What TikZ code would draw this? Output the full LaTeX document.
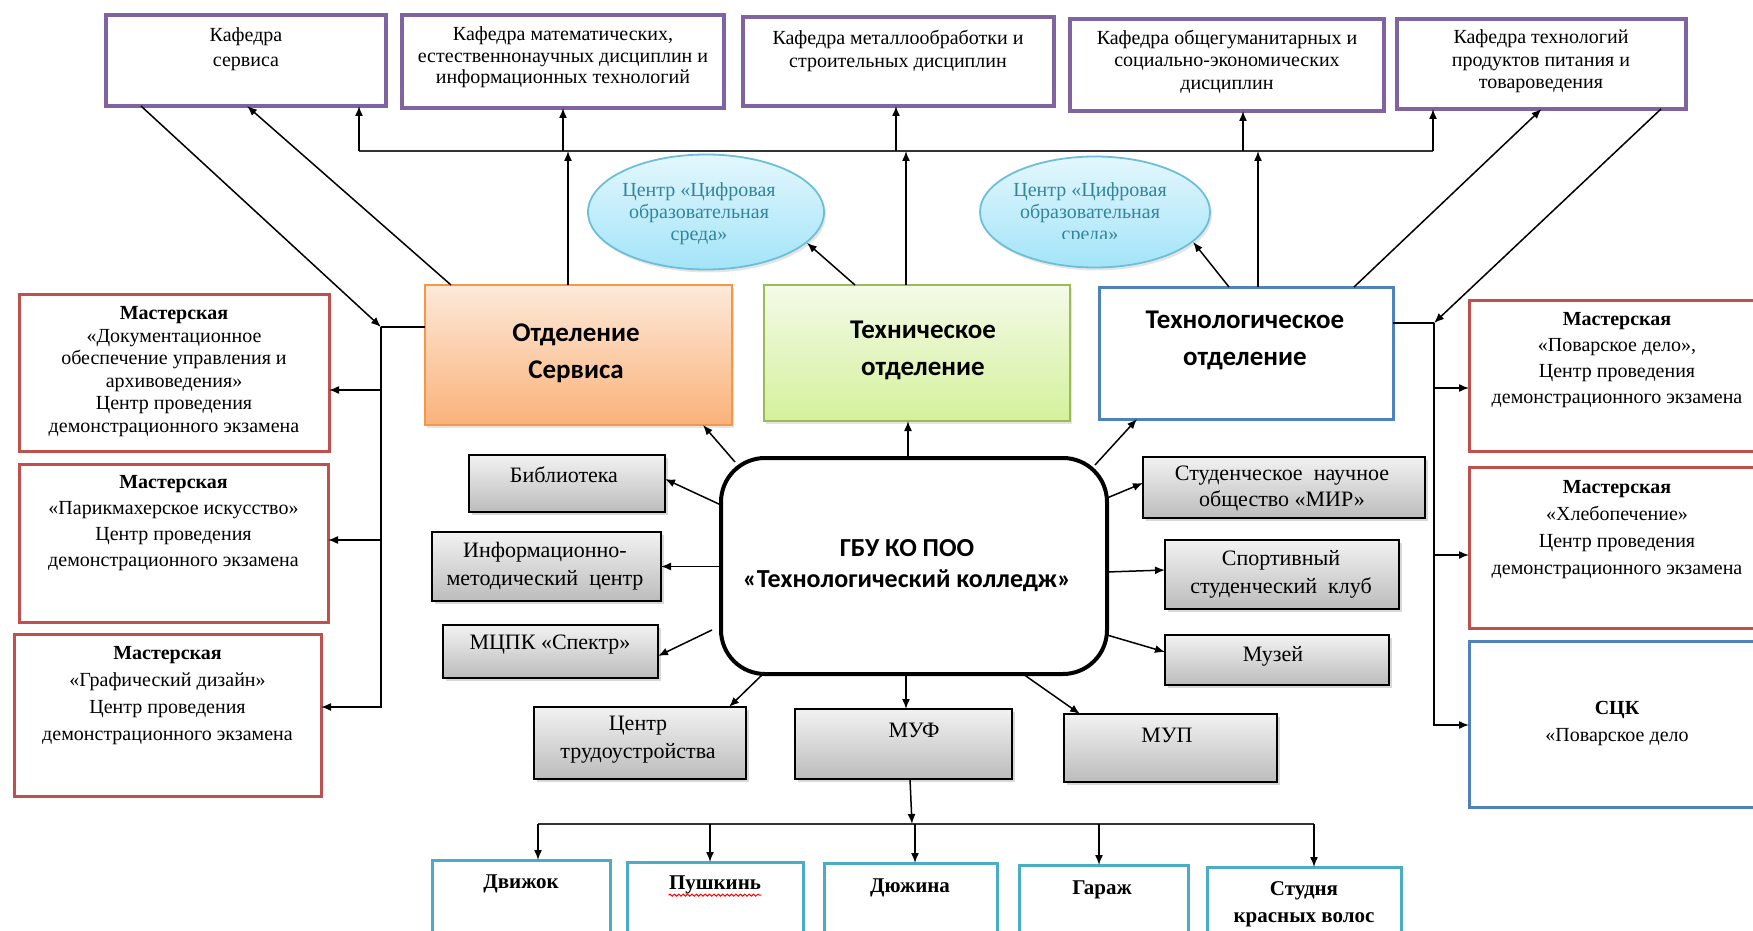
\documentclass[tikz,border=0pt]{standalone}
\usepackage{fontspec}
\setmainfont{Liberation Serif}
\newfontfamily\calib{Carlito}
\usetikzlibrary{arrows.meta,shapes.geometric,fit,shadows,calc,decorations.pathmorphing}
\definecolor{kpurple}{HTML}{8064A2}
\definecolor{wred}{HTML}{C0504D}
\definecolor{dblue}{HTML}{4F81BD}
\definecolor{bcyan}{HTML}{4BACC6}
\definecolor{oborder}{HTML}{F79646}
\definecolor{otop}{HTML}{FDE9D9}
\definecolor{obot}{HTML}{FAB27A}
\definecolor{gborder}{HTML}{9BBB59}
\definecolor{gtop}{HTML}{F4FAE8}
\definecolor{gbot}{HTML}{D4F19B}
\definecolor{etop}{HTML}{E3F7FD}
\definecolor{ebot}{HTML}{A3E4F8}
\definecolor{eborder}{HTML}{6DBFD9}
\definecolor{etext}{HTML}{31859C}
\definecolor{greytop}{HTML}{F2F2F2}
\definecolor{greybot}{HTML}{BCBCBC}
\tikzset{
 box/.style={inner sep=0pt, outer sep=0pt},
 kaf/.style={box, draw=kpurple, line width=1.75pt, fill=white},
 wsh/.style={box, draw=wred, line width=1.5pt, fill=white},
 wshb/.style={box, draw=dblue, line width=1.5pt, fill=white},
 greybox/.style={box, draw=black, line width=0.9pt, top color=greytop, bottom color=greybot,
   drop shadow={shadow xshift=1.5pt, shadow yshift=-1.5pt, opacity=0.3}},
 botbox/.style={box, draw=bcyan, line width=1.5pt, fill=white},
 ell/.style={ellipse, inner sep=0pt, draw=eborder, line width=0.9pt, top color=etop, bottom color=ebot,
   drop shadow={shadow xshift=1pt, shadow yshift=-1.5pt, opacity=0.2}},
 txt/.style={inner sep=0pt, align=center, font=\fontsize{10}{11.5}\selectfont},
 dtxt/.style={inner sep=0pt, align=center, font=\calib\bfseries\fontsize{13.5}{18.5}\selectfont},
 arr/.style={line width=0.75pt, -{Latex[length=5pt,width=4pt]}},
 ln/.style={line width=0.75pt},
 bus/.style={line width=1pt, black!80},
}
\begin{document}
\begin{tikzpicture}[x=0.5pt,y=-0.5pt]
\fill[white] (0,0) rectangle (1753,931);
\useasboundingbox (0,0) rectangle (1753,931);

% ---------- top row: departments (кафедры)
\node[kaf, fit={(106,15) (386,106)}] (k1) {};
\node[kaf, fit={(402,15) (724,108)}] (k2) {};
\node[kaf, fit={(743,17) (1054,106)}] (k3) {};
\node[kaf, fit={(1070,19) (1384,111)}] (k4) {};
\node[kaf, fit={(1397,19) (1686,109)}] (k5) {};
\node[txt, font=\fontsize{10}{12.5}\selectfont] (k1t) at (246,49.5) {Кафедра\\сервиса};
\node[txt, font=\fontsize{10}{10.8}\selectfont] (k2t) at (563,57.5) {Кафедра математических,\\естественнонаучных дисциплин и\\информационных технологий};
\node[txt] (k3t) at (898,50.5) {Кафедра металлообработки и\\строительных дисциплин};
\node[txt, font=\fontsize{10}{11.2}\selectfont] (k4t) at (1227,61.5) {Кафедра общегуманитарных и\\социально-экономических\\дисциплин};
\node[txt, font=\fontsize{10}{11.2}\selectfont] (k5t) at (1541,61.5) {Кафедра технологий\\продуктов питания и\\товароведения};

% ---------- ellipses
\node[ell, minimum width=118pt, minimum height=57.5pt] (e1) at (706,212) {};
\node[ell, minimum width=115pt, minimum height=55.5pt] (e2) at (1095,212) {};
\node[txt, text=etext, font=\fontsize{10}{11}\selectfont] (e1t) at (699,213.5) {Центр «Цифровая\\образовательная\\среда»};
\begin{scope}
\clip (960,150) rectangle (1230,239);
\node[txt, text=etext, font=\fontsize{10}{11}\selectfont] (e2t) at (1090,213.5) {Центр «Цифровая\\образовательная\\среда»};
\end{scope}

% ---------- divisions
\node[box, draw=oborder, line width=0.8pt, top color=otop, bottom color=obot,
  drop shadow={shadow xshift=1pt, shadow yshift=-1.5pt, opacity=0.2}, fit={(425,285) (732,425)}] (srv) {};
\node[box, draw=gborder, line width=0.8pt, top color=gtop, bottom color=gbot,
  drop shadow={shadow xshift=1pt, shadow yshift=-1.5pt, opacity=0.2}, fit={(764,285) (1070,421)}] (tech) {};
\node[box, draw=dblue, line width=1.5pt, fill=white, fit={(1099,287) (1393,419)}] (tlg) {};
\node[dtxt] (srvt) at (576,353.5) {Отделение\\Сервиса};
\node[dtxt] (techt) at (923,350.5) {Техническое\\отделение};
\node[dtxt] (tlgt) at (1245,340.5) {Технологическое\\отделение};

% ---------- centre
\node[box, draw=black, line width=2pt, rounded corners=22pt, fill=white, fit={(721,458) (1107,674)}] (ctr) {};
\node[inner sep=0pt, align=center, font=\calib\bfseries\fontsize{13}{15.5}\selectfont] (ctrt) at (907,565.5) {ГБУ КО ПОО\\«Технологический колледж»};

% ---------- grey units
\node[greybox, fit={(469,455) (665,512)}] (lib) {};
\node[greybox, fit={(432,532) (661,601)}] (imc) {};
\node[greybox, fit={(443,625) (658,678)}] (mcpk) {};
\node[greybox, fit={(1143,457) (1425,518)}] (snm) {};
\node[greybox, fit={(1165,540) (1399,609)}] (ssk) {};
\node[greybox, fit={(1165,635) (1389,685)}] (muz) {};
\node[greybox, fit={(534,707) (746,779)}] (ctru) {};
\node[greybox, fit={(795,709) (1012,779)}] (muf) {};
\node[greybox, fit={(1064,714) (1277,782)}] (mup) {};
\tikzset{gtxt/.style={txt, font=\fontsize{11}{14}\selectfont}}
\node[gtxt] (libt) at (564,475) {Библиотека};
\node[gtxt] (imct) at (545,566) {Информационно-\\методический\ \ центр};
\node[gtxt] (mcpkt) at (550,645) {МЦПК «Спектр»};
\node[gtxt, font=\fontsize{11}{13}\selectfont] (snmt) at (1282,489) {Студенческое\ \ научное\\общество «МИР»};
\node[gtxt] (sskt) at (1281,574.5) {Спортивный\\студенческий\ \ клуб};
\node[gtxt] (muzt) at (1273,656) {Музей};
\node[gtxt] (ctrut) at (638,740) {Центр\\трудоустройства};
\node[gtxt] (muft) at (914,730) {МУФ};
\node[gtxt] (mupt) at (1167,735) {МУП};

% ---------- workshops left
\node[wsh, fit={(19,294) (329,451)}] (w1) {};
\node[wsh, fit={(19,464) (328,622)}] (w2) {};
\node[wsh, fit={(14,634) (321,796)}] (w3) {};
\node[txt, font=\fontsize{10}{11.3}\selectfont] (w1t) at (174,371.5) {\textbf{Мастерская}\\«Документационное\\обеспечение управления и\\архивоведения»\\Центр проведения\\демонстрационного экзамена};
\node[txt, font=\fontsize{10}{13}\selectfont] (w2t) at (173.5,523) {\textbf{Мастерская}\\«Парикмахерское искусство»\\Центр проведения\\демонстрационного экзамена};
\node[txt, font=\fontsize{10}{13.5}\selectfont] (w3t) at (167.5,695.5) {\textbf{Мастерская}\\«Графический дизайн»\\Центр проведения\\демонстрационного экзамена};

% ---------- workshops right
\node[wsh, fit={(1469,300) (1772,451)}] (r1) {};
\node[wsh, fit={(1469,467) (1772,628)}] (r2) {};
\node[wshb, fit={(1469,641) (1772,807)}] (r3) {};
\node[txt, font=\fontsize{10}{13}\selectfont] (r1t) at (1617,360) {\textbf{Мастерская}\\«Поварское дело»,\\Центр проведения\\демонстрационного экзамена};
\node[txt, font=\fontsize{10}{13.5}\selectfont] (r2t) at (1617,529.5) {\textbf{Мастерская}\\«Хлебопечение»\\Центр проведения\\демонстрационного экзамена};
\node[txt, font=\fontsize{10}{13.5}\selectfont] (r3t) at (1617,723.5) {\textbf{СЦК}\\«Поварское дело};

% ---------- bottom row
\node[botbox, fit={(432,860) (610,980)}] (b1) {};
\node[botbox, fit={(627,862) (803,980)}] (b2) {};
\node[botbox, fit={(824,863) (997,980)}] (b3) {};
\node[botbox, fit={(1019,865) (1188,980)}] (b4) {};
\node[botbox, fit={(1207,867) (1401,980)}] (b5) {};
\tikzset{btxt/.style={txt, font=\bfseries\fontsize{10.5}{13.5}\selectfont}}
\node[btxt] (b1t) at (521,884) {Движок};
\node[btxt] (b2t) at (715,885) {Пушкинь};
\node[btxt] (b3t) at (910,888) {Дюжина};
\node[btxt] (b4t) at (1102,890) {Гараж};
\node[btxt] (b5t) at (1304,904.5) {Студня\\красных волос};
\draw[red, line width=0.5pt, decorate, decoration={snake, amplitude=0.5pt, segment length=2.2pt}]
  ([yshift=-0.3pt]b2t.south west) -- ([yshift=-0.3pt]b2t.south east);

% ---------- coordinates of buses
\coordinate (tbL) at (359,151);
\coordinate (tbR) at (1433,151);
\coordinate (lbT) at (381,327);
\coordinate (lbB) at (381,707);
\coordinate (rbT) at (1434,323);
\coordinate (rbB) at (1434,725);
\coordinate (bbL) at (538,824);
\coordinate (bbR) at (1314,824);
\coordinate (bbM) at (912,824);

% ---------- top bus
\draw[bus] (tbL) -- (tbR);
\draw[arr] (tbL) -- (tbL |- k1.south);
\draw[arr] (k2.south |- tbL) -- (k2.south);
\draw[arr] (896,151) -- (896,0 |- k3.south);
\draw[arr] (1243,151) -- (1243,0 |- k4.south);
\draw[arr] (tbR) -- (tbR |- k5.south);
\draw[arr] (568,0 |- srv.north) -- (568,0 |- tbL);
\draw[arr] (906,0 |- tech.north) -- (906,0 |- tbL);
\draw[arr] (1258,0 |- tlg.north) -- (1258,0 |- tbL);

% ---------- diagonals
\draw[arr] (141,0 |- k1.south) -- (lbT);
\draw[arr] (451,0 |- srv.north) -- (247,0 |- k1.south);
\draw[arr] (1661,0 |- k5.south) -- (rbT);
\draw[arr] (1354,0 |- tlg.north) -- (k5.south);
\draw[arr] (855,0 |- tech.north) -- (e1.-17);
\draw[arr] (1229,0 |- tlg.north) -- (e2.-17);

% ---------- left bus
\draw[ln] (srv.west |- lbT) -- (lbT);
\draw[arr] (lbT) -- (lbB) -- (w3.east |- lbB);
\draw[arr] (381,390) -- (w1.east |- 0,390);
\draw[arr] (381,540) -- (w2.east |- 0,540);

% ---------- right bus
\draw[ln] (tlg.east |- rbT) -- (rbT);
\draw[arr] (rbT) -- (rbB) -- (r3.west |- rbB);
\draw[arr] (1434,388) -- (r1.west |- 0,388);
\draw[arr] (1434,555) -- (r2.west |- 0,555);

% ---------- centre arrows
\draw[arr] ($(ctr.north west)+(14,4)$) -- (703,0 |- srv.south);
\draw[arr] (908,0 |- ctr.north) -- (908,0 |- tech.south);
\draw[arr] ($(ctr.north east)+(-12,7)$) -- (1137,0 |- tlg.south);
\draw[arr] (ctr.west |- 0,505) -- (lib.east |- 0,479);
\draw[arr] (ctr.west |- imc.east) -- (imc.east);
\draw[arr] (712,630) -- (mcpk.east |- 0,656);
\draw[arr] (ctr.east |- 0,498) -- (snm.west |- 0,483);
\draw[arr] (ctr.east |- 0,572) -- (ssk.west |- 0,570);
\draw[arr] (ctr.east |- 0,635) -- (muz.west |- 0,652);
\draw[arr] (763,0 |- ctr.south) -- (729,0 |- ctru.north);
\draw[arr] (906,0 |- ctr.south) -- (906,0 |- muf.north);
\draw[arr] (1023,0 |- ctr.south) -- (1080,0 |- mup.north);

% ---------- bottom bus
\draw[arr] (910,0 |- muf.south) -- (bbM);
\draw[bus] (bbL) -- (bbR);
\draw[arr] (bbL) -- (bbL |- b1.north);
\draw[arr] (710,824) -- (710,0 |- b2.north);
\draw[arr] (915,824) -- (915,0 |- b3.north);
\draw[arr] (1099,824) -- (1099,0 |- b4.north);
\draw[arr] (bbR) -- (bbR |- b5.north);
\end{tikzpicture}
\end{document}
